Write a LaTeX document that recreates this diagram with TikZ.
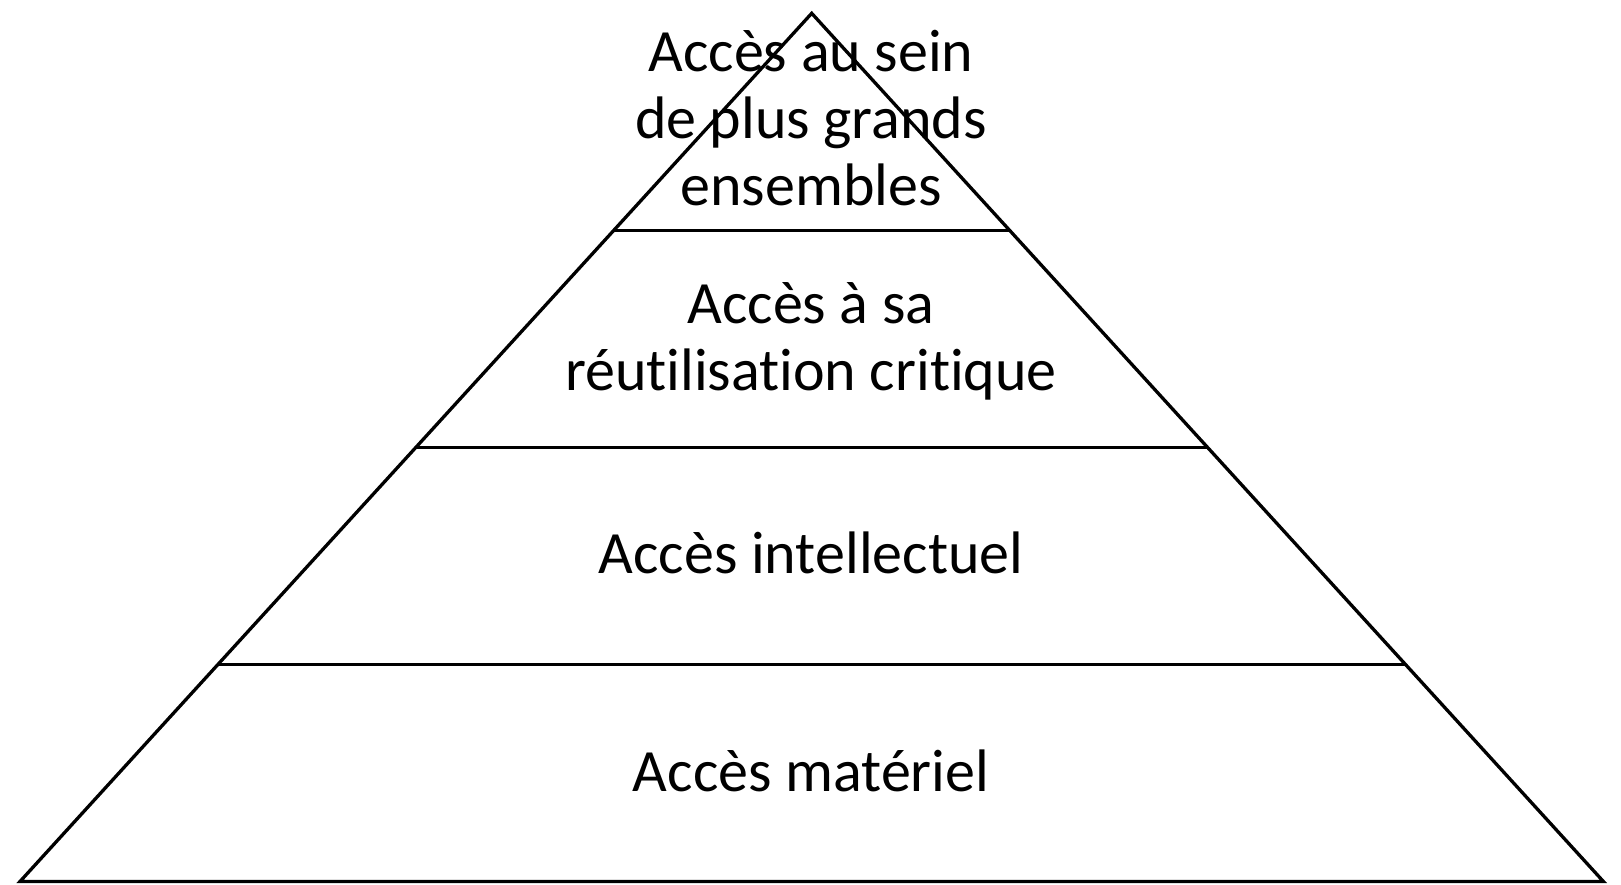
\documentclass[tikz,border=0pt]{standalone}
\usepackage{fontspec}
\setmainfont[Ligatures=NoCommon]{Carlito}
\usetikzlibrary{calc}
\begin{document}
\begin{tikzpicture}[x=1pt,y=-1pt,
  edge/.style={line width=3.3pt,line join=miter,black},
  lbl/.style={anchor=base,inner sep=0pt,font=\fontsize{60}{67}\selectfont,align=center}]
\useasboundingbox (0,0) rectangle (1621,884);
\coordinate (apex) at (811.7,13.3);
\coordinate (bl) at (20,881.5);
\coordinate (br) at (1603.4,881.5);
\draw[edge] (apex) -- (bl) -- (br) -- cycle;
\foreach \t/\n in {0.25/a,0.5/b,0.75/c}{
  \coordinate (l\n) at ($(apex)!\t!(bl)$);
  \coordinate (r\n) at ($(apex)!\t!(br)$);
  \draw[edge] (l\n) -- (r\n);
}
\node[lbl] (t1) at (811,71.7) {Accès au sein};
\node[lbl] (t2) at (811,138.7) {de plus grands};
\node[lbl] (t3) at (811,205.7) {ensembles};
\node[lbl] (t4) at (811,323) {Accès à sa};
\node[lbl] (t5) at (811,390) {réutilisation critique};
\node[lbl] (t6) at (811,573) {Accès intellectuel};
\node[lbl] (t7) at (811,791) {Accès matériel};
\end{tikzpicture}
\end{document}
